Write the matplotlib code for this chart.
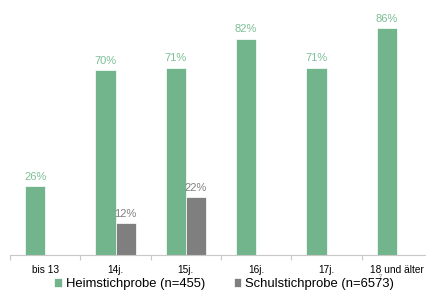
import matplotlib
matplotlib.use("Agg")
import matplotlib.pyplot as plt
import numpy as np

categories = ["bis 13", "14j.", "15j.", "16j.", "17j.", "18 und älter"]
heim = [26, 70, 71, 82, 71, 86]
schul = [None, 12, 22, None, None, None]
series_names = ["Heimstichprobe (n=455)", "Schulstichprobe (n=6573)"]

green = "#72b48b"
grey = "#7f7f7f"

plt.rcParams['font.family'] = ['Liberation Sans', 'DejaVu Sans']

fig = plt.figure(figsize=(4.26, 2.98), dpi=100)
ax = fig.add_axes([10 / 426, 43 / 298, 422 / 426, 255 / 298])

x = np.arange(len(categories))
w = 0.285
hb = ax.bar(x - w / 2, heim, w, color=green, edgecolor="white", linewidth=0.5,
            label=series_names[0])
sx = [i for i, v in enumerate(schul) if v is not None]
sv = [v for v in schul if v is not None]
sb = ax.bar(np.array(sx) + w / 2, sv, w, color=grey, edgecolor="white", linewidth=0.5,
            label=series_names[1])

# werte über den balken
for xi, v in zip(x, heim):
    ax.annotate(f"{v}%", (xi - w / 2, v), xytext=(0, 3), textcoords="offset points",
                ha="center", va="bottom", fontsize=8, color="#7dbf97")
for xi, v in zip(sx, sv):
    ax.annotate(f"{v}%", (xi + w / 2, v), xytext=(0, 3), textcoords="offset points",
                ha="center", va="bottom", fontsize=8, color="#808080")

ax.set_xlim(-0.5, len(categories) - 0.5)
ax.set_ylim(0, 96.6)
ax.set_yticks([])
for s in ["left", "right", "top"]:
    ax.spines[s].set_visible(False)
ax.spines["bottom"].set_color("#c8c8c8")
ax.spines["bottom"].set_linewidth(0.8)

ax.set_xticks(np.arange(-0.5, len(categories), 1.0))
ax.set_xticklabels([])
ax.tick_params(axis="x", which="major", length=3.5, color="#c8c8c8", width=0.8)
ax.set_xticks(x, minor=True)
ax.set_xticklabels(categories, minor=True, fontsize=7.3)
ax.tick_params(axis="x", which="minor", length=0, pad=7.2)

fig.text(380 / 426, 1 - 277 / 298, "?", fontsize=4, color="#666666", ha="center", va="center")

fig.legend(handles=[hb, sb], loc="center", bbox_to_anchor=(224 / 426, 14 / 298),
           ncol=2, frameon=False, fontsize=9.4, handlelength=0.6, handleheight=0.6,
           handletextpad=0.3, columnspacing=2.2, borderpad=0)

fig.savefig("out.png", dpi=100)
